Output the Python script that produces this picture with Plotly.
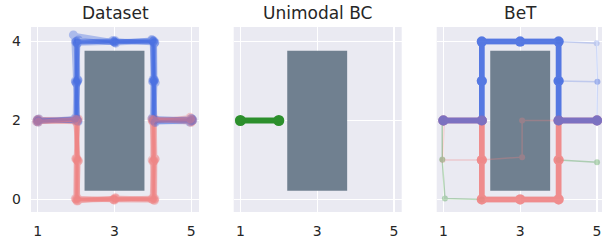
import plotly.graph_objects as go

# ---------------- data ----------------
panel_titles = ["Dataset", "Unimodal BC", "BeT"]
x_tick_vals = [1, 3, 5]
y_tick_vals = [0, 2, 4]
obstacle_x = [2.22, 3.78]
obstacle_y = [0.22, 3.77]

# Dataset demonstrations (blue: over the top, red: under the bottom)
data_blue_x = [
    [1.00, 2.02, 2.03, 2.01, 3.00, 4.02, 4.03, 4.00, 4.98],
    [0.98, 1.99, 2.05, 2.04, 3.02, 4.05, 4.06, 4.03, 5.02],
    [1.03, 2.05, 1.98, 1.93, 2.98, 3.98, 4.01, 4.05, 4.96],
    [1.01, 2.00, 2.01, 2.06, 3.03, 4.01, 3.99, 3.98, 5.04],
    [0.99, 2.04, 2.04, 1.99, 2.96, 4.04, 4.04, 4.01, 5.00],
    [1.02, 1.97, 1.99, 2.03, 3.01, 3.97, 4.02, 4.06, 5.01],
]
data_blue_y = [
    [2.02, 2.03, 2.98, 4.01, 3.99, 4.02, 3.01, 2.04, 1.98],
    [1.98, 2.00, 3.03, 3.97, 4.02, 3.98, 2.96, 2.01, 2.03],
    [2.04, 1.97, 3.00, 4.17, 4.00, 4.03, 3.04, 1.97, 1.96],
    [1.96, 2.05, 2.95, 4.04, 3.96, 4.00, 2.99, 2.06, 2.01],
    [2.01, 1.99, 3.02, 3.99, 4.03, 3.96, 3.03, 2.00, 2.05],
    [1.99, 2.06, 2.97, 3.95, 3.98, 4.05, 2.98, 1.95, 1.99],
]
data_red_x = [
    [1.01, 2.03, 2.02, 2.01, 3.01, 4.03, 4.02, 4.00, 4.97],
    [0.97, 1.99, 2.05, 2.04, 2.98, 4.05, 4.06, 4.04, 5.03],
    [1.03, 2.06, 1.99, 2.00, 3.03, 3.99, 4.00, 4.05, 4.99],
    [1.00, 2.01, 2.03, 2.05, 2.97, 4.01, 3.98, 3.99, 5.02],
    [0.99, 2.04, 2.01, 1.98, 3.00, 4.04, 4.05, 4.02, 5.01],
    [1.02, 1.98, 2.06, 2.03, 3.02, 3.97, 4.03, 3.97, 4.98],
]
data_red_y = [
    [2.00, 2.02, 1.01, -0.02, 0.01, -0.01, 0.98, 1.97, 2.08],
    [1.97, 1.98, 0.97, 0.03, -0.01, 0.02, 1.02, 2.02, 2.00],
    [2.03, 2.04, 1.03, 0.01, 0.03, 0.00, 0.96, 2.04, 1.95],
    [1.99, 1.96, 0.99, -0.03, 0.00, 0.04, 1.00, 1.99, 2.03],
    [2.02, 2.01, 1.04, 0.02, -0.02, -0.03, 1.03, 2.01, 1.98],
    [1.96, 2.03, 0.98, -0.04, 0.04, 0.01, 0.97, 2.03, 2.04],
]

# Unimodal BC rollout
bc_x = [1, 2]
bc_y = [2, 2]

# BeT main rollouts
bet_blue_x = [1, 2, 2, 2, 3, 4, 4, 4, 5]
bet_blue_y = [2, 2, 3, 4, 4, 4, 3, 2, 2]
bet_red_x = [1, 2, 2, 2, 3, 4, 4, 4, 5]
bet_red_y = [2, 2, 1, 0, 0, 0, 1, 2, 2]
bet_main_repeats = 3

# BeT faint rollouts
bet_faint_blue1_x = [4, 4.99, 5.01, 5.0]
bet_faint_blue1_y = [4, 3.96, 2.98, 2.0]
bet_faint_blue2_x = [4, 5.01]
bet_faint_blue2_y = [3, 2.98]
bet_faint_red_x = [1.02, 0.98, 2.0, 3.05, 3.05, 4.0]
bet_faint_red_y = [2.0, 1.0, 1.0, 1.07, 2.0, 2.0]
bet_faint_green1_x = [0.97, 0.97, 1.04, 2.0]
bet_faint_green1_y = [2.0, 1.01, 0.02, 0.0]
bet_faint_green2_x = [4.0, 5.0]
bet_faint_green2_y = [1.0, 0.94]

# ---------------- style ----------------
BLUE = "#4169E1"
RED = "#F08080"
GREEN = "#228B22"
SLATE = "#708090"
BG = "#EAEAF2"
TXT = "#262626"
FONT = "DejaVu Sans"

W, H = 602, 240
domains = [[31 / W, 199 / W], [233.7 / W, 401.7 / W], [436.7 / W, 1.0]]
x_ranges = [[0.826, 5.2], [0.826, 5.2], [0.826, 5.13]]
y_range = [-0.32, 4.37]

fig = go.Figure()


def add_path(xs, ys, color, axis, width, msize, opacity):
    xa = "x" if axis == 1 else f"x{axis}"
    ya = "y" if axis == 1 else f"y{axis}"
    fig.add_trace(go.Scatter(
        x=xs, y=ys, mode="lines+markers",
        line=dict(color=color, width=width),
        marker=dict(color=color, size=msize, line=dict(width=0)),
        opacity=opacity, xaxis=xa, yaxis=ya, showlegend=False,
        hoverinfo="skip"))


# Panel 1: dataset
for bx, by, rx, ry in zip(data_blue_x, data_blue_y, data_red_x, data_red_y):
    add_path(bx, by, BLUE, 1, 4.5, 9, 0.36)
    add_path(rx, ry, RED, 1, 4.5, 9, 0.36)

# Panel 2: unimodal BC
add_path(bc_x, bc_y, GREEN, 2, 6, 11, 0.95)

# Panel 3: BeT
add_path(bet_faint_blue1_x, bet_faint_blue1_y, BLUE, 3, 1.5, 6, 0.25)
add_path(bet_faint_blue2_x, bet_faint_blue2_y, BLUE, 3, 1.5, 6, 0.25)
add_path(bet_faint_red_x, bet_faint_red_y, RED, 3, 1.5, 6, 0.3)
add_path(bet_faint_green1_x, bet_faint_green1_y, GREEN, 3, 1.5, 6, 0.3)
add_path(bet_faint_green2_x, bet_faint_green2_y, GREEN, 3, 1.5, 6, 0.3)
for _ in range(bet_main_repeats):
    add_path(bet_red_x, bet_red_y, RED, 3, 5.5, 10, 0.5)
    add_path(bet_blue_x, bet_blue_y, BLUE, 3, 5.5, 10, 0.5)

# obstacles
for i in range(3):
    xr = "x" if i == 0 else f"x{i + 1}"
    yr = "y" if i == 0 else f"y{i + 1}"
    fig.add_shape(type="rect", xref=xr, yref=yr,
                  x0=obstacle_x[0], x1=obstacle_x[1],
                  y0=obstacle_y[0], y1=obstacle_y[1],
                  fillcolor=SLATE, line=dict(width=0), layer="between")

# axes
for i in range(3):
    sx = "" if i == 0 else str(i + 1)
    fig.layout[f"xaxis{sx}"] = dict(
        domain=domains[i], range=x_ranges[i], anchor=f"y{sx}",
        tickvals=x_tick_vals, ticktext=[str(v) for v in x_tick_vals],
        showgrid=True, gridcolor="white", gridwidth=1.3,
        zeroline=False, showline=False, ticks="",
        ticklabelstandoff=9,
        tickfont=dict(family=FONT, size=14, color=TXT))
    fig.layout[f"yaxis{sx}"] = dict(
        domain=[0, 1], range=y_range, anchor=f"x{sx}",
        tickvals=y_tick_vals, ticktext=[str(v) for v in y_tick_vals],
        showticklabels=(i == 0),
        showgrid=True, gridcolor="white", gridwidth=1.3,
        zeroline=False, showline=False, ticks="",
        ticklabelstandoff=9,
        tickfont=dict(family=FONT, size=14, color=TXT))
    fig.add_annotation(
        text=panel_titles[i], xref="paper", yref="paper",
        x=(domains[i][0] + (domains[i][0] + 168 / W)) / 2, y=1,
        xanchor="center", yanchor="bottom", yshift=2, showarrow=False,
        font=dict(family=FONT, size=17, color=TXT))

fig.update_layout(
    width=W, height=H,
    margin=dict(l=0, r=0, t=27, b=28),
    paper_bgcolor="white", plot_bgcolor=BG,
)

fig.write_html(
    "out.html",
    config={"displayModeBar": False, "staticPlot": True},
    post_script="document.body.style.margin='0';document.body.style.padding='0';"
                "document.body.style.overflow='hidden';",
)
